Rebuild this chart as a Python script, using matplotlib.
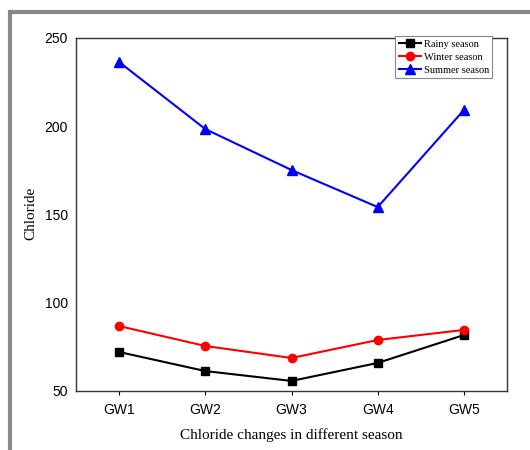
import matplotlib
matplotlib.use("Agg")
import matplotlib.pyplot as plt
from matplotlib.patches import Rectangle

sites = ["GW1", "GW2", "GW3", "GW4", "GW5"]
rainy = [72.1, 61.3, 55.7, 65.9, 81.7]
winter = [86.8, 75.5, 68.7, 78.9, 84.6]
summer = [236.4, 198.4, 175.2, 154.2, 209.2]
yticks = [50, 100, 150, 200, 250]

fig = plt.figure(figsize=(5.3, 4.5), dpi=100)
# grey frame around the page
fig.patches.append(Rectangle((10/530, -0.1), 1.2, 1 - 12/450 + 0.1, transform=fig.transFigure,
                             fill=False, edgecolor="#888888", linewidth=3))
ax = fig.add_axes([76/530, 1 - 391/450, 431/530, 353/450])

x = list(range(1, len(sites) + 1))
ax.plot(x, rainy, color="black", marker="s", markersize=6, linewidth=1.5, label="Rainy season")
ax.plot(x, winter, color="red", marker="o", markersize=6, linewidth=1.5, label="Winter season")
ax.plot(x, summer, color="blue", marker="^", markersize=7, linewidth=1.5, label="Summer season")

ax.set_xlim(0.5, 5.5)
ax.set_ylim(50, 250)
ax.set_xticks(x)
ax.set_xticklabels(sites, family="Liberation Sans", fontsize=10)
ax.set_yticks(yticks)
ax.set_yticklabels([str(v) for v in yticks], family="Liberation Sans", fontsize=10)
ax.tick_params(axis="y", length=0, pad=6)
ax.tick_params(axis="x", length=3, direction="out", pad=6)
for s in ax.spines.values():
    s.set_linewidth(1.0)
    s.set_color("#333333")

ax.set_xlabel("Chloride changes in different season", family="Liberation Serif", fontsize=11, labelpad=8)
ax.set_ylabel("Chloride", family="Liberation Serif", fontsize=11)
ax.yaxis.set_label_coords(-0.09, 0.504)

leg = ax.legend(loc="upper right", bbox_to_anchor=(0.965, 1.005), prop={"family": "Liberation Serif", "size": 7.5},
                fancybox=False, framealpha=1, edgecolor="#888888", borderpad=0.3, labelspacing=0.35,
                handlelength=2.2, handletextpad=0.2, borderaxespad=0)
leg.get_frame().set_linewidth(0.8)

fig.savefig("out.png", dpi=100)
